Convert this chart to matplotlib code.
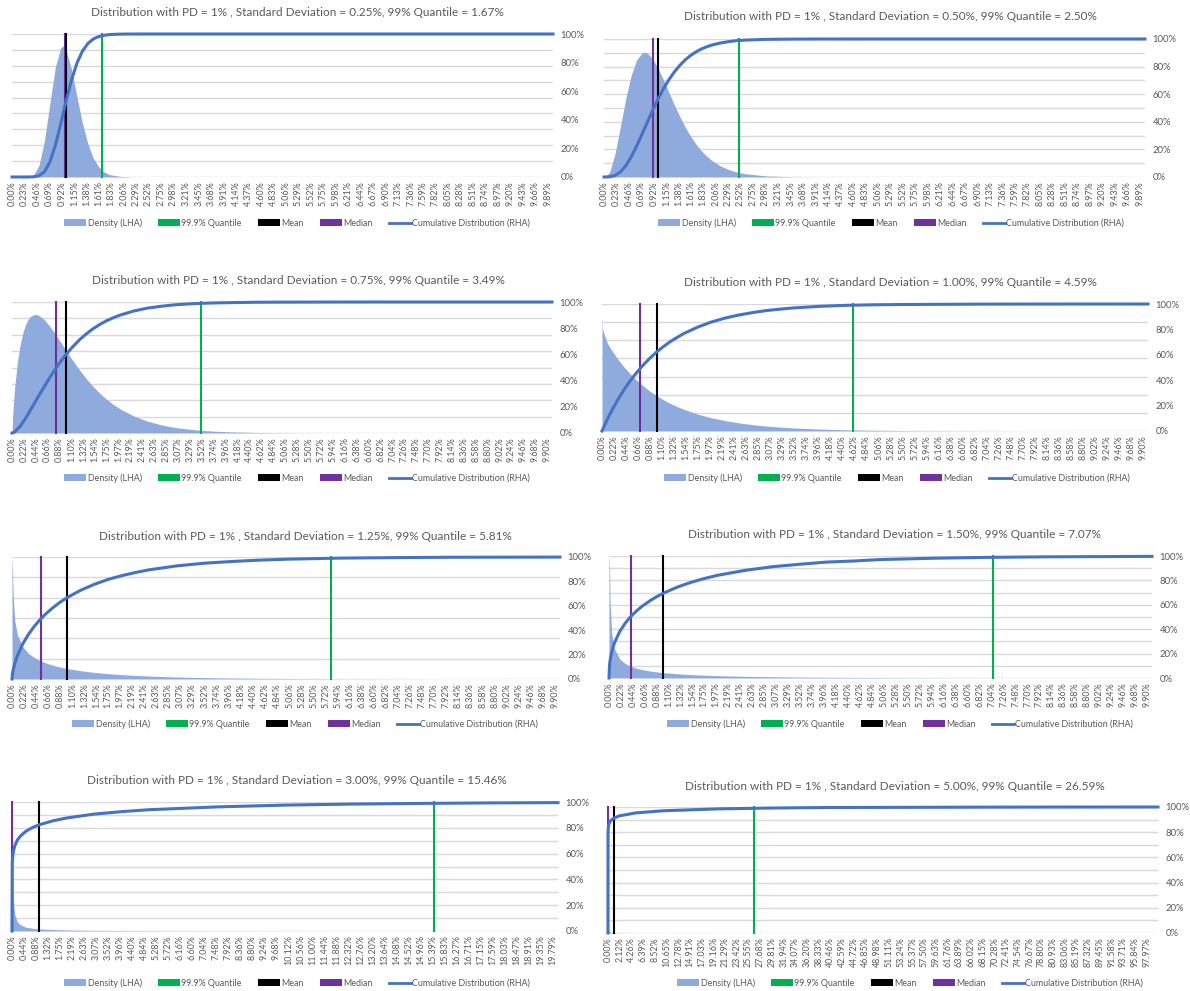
import numpy as np
import matplotlib
matplotlib.use("Agg")
import matplotlib.pyplot as plt
from matplotlib.patches import Patch
from matplotlib.lines import Line2D

plt.rcParams['font.family'] = ['Lato', 'DejaVu Sans']

# ---- data ----
SD_LABELS = ["0.25%", "0.50%", "0.75%", "1.00%", "1.25%", "1.50%", "3.00%", "5.00%"]
Q99 = [1.67, 2.50, 3.49, 4.59, 5.81, 7.07, 15.46, 26.59]
MEAN = [1.0, 1.0, 1.0, 1.0, 1.0, 1.0, 1.0, 1.0]
MEDIAN = [0.98, 0.91, 0.82, 0.69, 0.53, 0.40, 0.01, 0.0]
XMAX = [9.99, 9.99, 9.99, 9.99, 9.99, 9.99, 19.99, 99.99]
GRID_STEPS = [9, 10, 8, 7, 6, 10, 10, 10]

# x in %, density as share of left axis height, cumulative as share
x1 = [0, 0.3, 0.4, 0.5, 0.6, 0.7, 0.8, 0.9, 0.94, 1.0, 1.1, 1.2, 1.3, 1.4, 1.5, 1.6, 1.7, 1.8, 2.0, 2.2, 2.5, 3.0, 9.99]
dens1 = [0, 0.001, 0.015, 0.083, 0.256, 0.516, 0.769, 0.905, 0.916, 0.888, 0.749, 0.560, 0.376, 0.233, 0.133, 0.071, 0.036, 0.017, 0.004, 0.001, 0, 0, 0]
cdf1 = [0, 0.0001, 0.0015, 0.009, 0.037, 0.105, 0.220, 0.371, 0.436, 0.533, 0.680, 0.797, 0.880, 0.933, 0.965, 0.982, 0.991, 0.996, 0.9993, 0.9999, 1, 1, 1]

x2 = [0, 0.1, 0.2, 0.3, 0.4, 0.5, 0.6, 0.7, 0.75, 0.8, 0.9, 1.0, 1.1, 1.2, 1.3, 1.4, 1.5, 1.6, 1.7, 1.8,
      1.9, 2.0, 2.15, 2.3, 2.45, 2.6, 3.0, 3.5, 4.0, 5.0, 9.99]
dens2 = [0, 0.031, 0.161, 0.358, 0.564, 0.734, 0.846, 0.899, 0.904, 0.898, 0.856, 0.786, 0.702, 0.611, 0.522, 0.438, 0.361, 0.295, 0.237, 0.189,
         0.149, 0.118, 0.080, 0.054, 0.036, 0.024, 0.0075, 0.0016, 0.0004, 0, 0]
cdf2 = [0, 0.0008, 0.0105, 0.0356, 0.0805, 0.144, 0.222, 0.308, 0.353, 0.397, 0.485, 0.567, 0.641, 0.706, 0.762, 0.809, 0.849, 0.881, 0.907, 0.928,
        0.944, 0.957, 0.971, 0.981, 0.988, 0.992, 0.9975, 0.9994, 0.9999, 1, 1]

x3 = [0, 0.02, 0.05, 0.1, 0.15, 0.2, 0.25, 0.3, 0.35, 0.43, 0.5, 0.6, 0.7, 0.8, 0.9, 1.0, 1.125, 1.25, 1.375, 1.5,
      1.625, 1.75, 1.875, 2.0, 2.25, 2.5, 2.75, 3.0, 3.25, 3.5, 3.75, 4.0, 4.5, 5.0, 6.0, 7.0, 9.99]
dens3 = [0, 0.186, 0.351, 0.541, 0.671, 0.763, 0.827, 0.868, 0.893, 0.906, 0.897, 0.864, 0.814, 0.756, 0.693, 0.630, 0.552, 0.480, 0.4145, 0.355,
         0.303, 0.257, 0.218, 0.184, 0.130, 0.091, 0.063, 0.043, 0.030, 0.020, 0.0138, 0.0093, 0.0043, 0.0019, 0.0004, 0.0001, 0]
cdf3 = [0, 0.002, 0.008, 0.030, 0.051, 0.081, 0.111, 0.145, 0.181, 0.238, 0.289, 0.356, 0.424, 0.487, 0.546, 0.600, 0.659, 0.712, 0.757, 0.796,
        0.829, 0.857, 0.880, 0.900, 0.931, 0.953, 0.967, 0.978, 0.985, 0.990, 0.993, 0.995, 0.998, 0.999, 0.9998, 1, 1]

x4 = [0, 0.01, 0.1, 0.2, 0.3, 0.4, 0.5, 0.6, 0.75, 0.875, 1.0, 1.125, 1.25, 1.375, 1.5, 1.75, 2.0, 2.25, 2.5, 2.75,
      3.0, 3.25, 3.5, 4.0, 4.5, 5.0, 5.5, 6.0, 7.0, 8.0, 9.99]
dens4 = [0.90, 0.80, 0.69, 0.62, 0.56, 0.505, 0.457, 0.413, 0.356, 0.314, 0.278, 0.246, 0.217, 0.192, 0.170, 0.133, 0.104, 0.082, 0.064, 0.050,
         0.039, 0.031, 0.024, 0.015, 0.0092, 0.0056, 0.0035, 0.0024, 0.001, 0.0004, 0]
cdf4 = [0, 0.011, 0.095, 0.178, 0.254, 0.323, 0.386, 0.442, 0.518, 0.573, 0.622, 0.665, 0.704, 0.737, 0.768, 0.818, 0.858, 0.889, 0.913, 0.932,
        0.948, 0.959, 0.969, 0.982, 0.990, 0.994, 0.996, 0.997, 0.999, 0.9996, 1]

x5 = [0, 0.01, 0.02, 0.05, 0.1, 0.2, 0.3, 0.4, 0.5, 0.6, 0.75, 0.875, 1.0, 1.25, 1.5, 1.75, 2.0, 2.25, 2.5, 3.0,
      3.5, 4.0, 4.5, 5.0, 6.0, 7.0, 8.0, 9.99]
dens5 = [1.0, 0.905, 0.694, 0.481, 0.360, 0.261, 0.210, 0.177, 0.153, 0.134, 0.112, 0.098, 0.086, 0.068, 0.054, 0.044, 0.036, 0.029, 0.024, 0.016,
         0.0113, 0.008, 0.0055, 0.004, 0.002, 0.001, 0.0005, 0.0001]
cdf5 = [0, 0.047, 0.0725, 0.127, 0.193, 0.291, 0.366, 0.428, 0.481, 0.527, 0.586, 0.629, 0.666, 0.727, 0.776, 0.816, 0.847, 0.873, 0.895, 0.927,
        0.949, 0.963, 0.974, 0.982, 0.991, 0.995, 0.998, 0.9994]

x6 = [0, 0.01, 0.02, 0.05, 0.1, 0.2, 0.3, 0.4, 0.5, 0.6, 0.75, 0.875, 1.0, 1.25, 1.5, 1.75, 2.0, 2.5, 3.0, 3.5,
      4.0, 4.5, 5.0, 6.0, 7.0, 8.0, 9.99]
dens6 = [1.0, 0.926, 0.619, 0.364, 0.240, 0.155, 0.118, 0.096, 0.081, 0.070, 0.0575, 0.050, 0.044, 0.035, 0.028, 0.023, 0.019, 0.0136, 0.0099, 0.0073,
         0.0055, 0.0041, 0.0031, 0.0018, 0.0011, 0.0006, 0.0003]
cdf6 = [0, 0.108, 0.146, 0.215, 0.288, 0.383, 0.450, 0.504, 0.547, 0.585, 0.632, 0.666, 0.695, 0.744, 0.783, 0.815, 0.842, 0.882, 0.912, 0.932,
        0.950, 0.959, 0.971, 0.982, 0.989, 0.993, 0.997]

x7 = [0, 0.01, 0.02, 0.05, 0.1, 0.2, 0.3, 0.5, 0.75, 1.0, 1.5, 2.0, 3.0, 4.0, 5.0, 7.5, 10, 12.5, 15, 17.5, 19.99]
dens7 = [1.0, 1.0, 0.555, 0.243, 0.130, 0.070, 0.049, 0.030, 0.021, 0.0155, 0.011, 0.0076, 0.0048, 0.0035, 0.0025, 0.0014, 0.0009, 0.0006, 0.0004, 0.0003, 0.0002]
cdf7 = [0, 0.524, 0.562, 0.615, 0.659, 0.706, 0.734, 0.772, 0.802, 0.824, 0.854, 0.876, 0.906, 0.925, 0.940, 0.962, 0.976, 0.984, 0.989, 0.993, 0.995]

x8 = [0, 0.01, 0.02, 0.05, 0.1, 0.2, 0.5, 1, 2, 5, 10, 20, 30, 40, 50, 60, 70, 80, 90, 99.99]
dens8 = [0, 0.30, 0.15, 0.06, 0.03, 0.015, 0.006, 0.003, 0.0015, 0.0006, 0.0003, 0.0001, 0.0001, 0, 0, 0, 0, 0, 0, 0]
cdf8 = [0, 0.795, 0.811, 0.834, 0.851, 0.869, 0.893, 0.910, 0.929, 0.953, 0.970, 0.985, 0.992, 0.996, 0.997, 0.998, 0.999, 0.9996, 0.9999, 1.0]

LABELS_A = ["0.00%", "0.23%", "0.46%", "0.69%", "0.92%", "1.15%", "1.38%", "1.61%", "1.83%", "2.06%",
            "2.29%", "2.52%", "2.75%", "2.98%", "3.21%", "3.45%", "3.68%", "3.91%", "4.14%", "4.37%",
            "4.60%", "4.83%", "5.06%", "5.29%", "5.52%", "5.75%", "5.98%", "6.21%", "6.44%", "6.67%",
            "6.90%", "7.13%", "7.36%", "7.59%", "7.82%", "8.05%", "8.28%", "8.51%", "8.74%", "8.97%",
            "9.20%", "9.43%", "9.66%", "9.89%"]
LABELS_B = ["0.00%", "0.22%", "0.44%", "0.66%", "0.88%", "1.10%", "1.32%", "1.54%", "1.75%", "1.97%",
            "2.19%", "2.41%", "2.63%", "2.85%", "3.07%", "3.29%", "3.52%", "3.74%", "3.96%", "4.18%",
            "4.40%", "4.62%", "4.84%", "5.06%", "5.28%", "5.50%", "5.72%", "5.94%", "6.16%", "6.38%",
            "6.60%", "6.82%", "7.04%", "7.26%", "7.48%", "7.70%", "7.92%", "8.14%", "8.36%", "8.58%",
            "8.80%", "9.02%", "9.24%", "9.46%", "9.68%", "9.90%"]
LABELS_C = ["0.00%", "0.44%", "0.88%", "1.32%", "1.75%", "2.19%", "2.63%", "3.07%", "3.52%", "3.96%",
            "4.40%", "4.84%", "5.28%", "5.72%", "6.16%", "6.60%", "7.04%", "7.48%", "7.92%", "8.36%",
            "8.80%", "9.24%", "9.68%", "10.12%", "10.56%", "11.00%", "11.44%", "11.88%", "12.32%", "12.76%",
            "13.20%", "13.64%", "14.08%", "14.52%", "14.96%", "15.39%", "15.83%", "16.27%", "16.71%", "17.15%",
            "17.59%", "18.03%", "18.47%", "18.91%", "19.35%", "19.79%"]
LABELS_D = ["0.00%", "2.12%", "4.26%", "6.39%", "8.52%", "10.65%", "12.78%", "14.91%", "17.03%", "19.16%",
            "21.29%", "23.42%", "25.55%", "27.68%", "29.81%", "31.94%", "34.07%", "36.20%", "38.33%", "40.46%",
            "42.59%", "44.72%", "46.85%", "48.98%", "51.11%", "53.24%", "55.37%", "57.50%", "59.63%", "61.76%",
            "63.89%", "66.02%", "68.15%", "70.28%", "72.41%", "74.54%", "76.67%", "78.80%", "80.93%", "83.06%",
            "85.19%", "87.32%", "89.45%", "91.58%", "93.71%", "95.84%", "97.97%"]

RIGHT_TICKS = [0, 0.2, 0.4, 0.6, 0.8, 1.0]
RIGHT_LABELS = ["0%", "20%", "40%", "60%", "80%", "100%"]

# ---- styling / layout (pixels) ----
W, H = 1190, 991
DENS_C = "#8FAADC"
CDF_C = "#4472C4"
Q_C = "#00B050"
MEAN_C = "#000000"
MED_C = "#7030A0"
TXT_C = "#595959"
GRID_C = "#D9D9D9"

BOXES = [(12, 34, 553, 177), (604, 39, 1145, 177),
         (12, 302, 552, 433), (602, 304, 1148, 431),
         (12, 557, 560, 679), (609, 556, 1152, 678),
         (12, 802, 558, 931), (608, 807, 1158, 933)]
TITLE_XY = [(297, 12), (890, 17), (298, 281), (890, 283),
            (305, 537), (895, 535), (297, 780), (895, 786)]
LEGEND_XY = [(297, 223), (891, 223), (297, 478), (897, 478),
             (305, 724), (900, 724), (297, 983), (910, 983)]

XS = [x1, x2, x3, x4, x5, x6, x7, x8]
DENS = [dens1, dens2, dens3, dens4, dens5, dens6, dens7, dens8]
CDFS = [cdf1, cdf2, cdf3, cdf4, cdf5, cdf6, cdf7, cdf8]
LABELS = [LABELS_A, LABELS_A, LABELS_B, LABELS_B, LABELS_B, LABELS_B, LABELS_C, LABELS_D]

fig = plt.figure(figsize=(W / 100, H / 100), dpi=100)

for i in range(8):
    l, t, r, b = BOXES[i]
    ax = fig.add_axes([l / W, 1 - b / H, (r - l) / W, (b - t) / H])
    ax.fill_between(XS[i], DENS[i], color=DENS_C, lw=0, zorder=1)
    ax.set_xlim(0, XMAX[i])
    ax.set_ylim(0, 1)
    ax.set_yticks(np.linspace(0, 1, GRID_STEPS[i] + 1))
    ax.yaxis.grid(True, color=GRID_C, lw=1.0, zorder=0)
    ax.set_axisbelow(True)
    ticks = [float(s.strip('%')) for s in LABELS[i]]
    ax.set_xticks(ticks)
    ax.set_xticklabels(LABELS[i], rotation=90, fontsize=6.4, color=TXT_C)
    ax.tick_params(axis='x', length=0, pad=3)
    for sp in ax.spines.values():
        sp.set_visible(False)

    ax.axvline(Q99[i], color=Q_C, lw=1.5, zorder=2, clip_on=False)
    ax.axvline(MEDIAN[i], color=MED_C, lw=1.5, zorder=2, clip_on=False)
    ax.axvline(MEAN[i], color=MEAN_C, lw=1.5, zorder=2, clip_on=False)

    ax2 = ax.twinx()
    ax2.plot(XS[i], CDFS[i], color=CDF_C, lw=2.2, clip_on=False)
    ax2.set_ylim(0, 1)
    ax2.set_yticks(RIGHT_TICKS)
    ax2.set_yticklabels(RIGHT_LABELS, fontsize=6.8, color=TXT_C)
    ax2.tick_params(axis='y', length=0, pad=5.5)
    for sp in ax2.spines.values():
        sp.set_visible(False)
    # twinx puts the left ticks back on, so hide them afterwards
    ax.tick_params(axis='y', left=False, right=False, labelleft=False, labelright=False)

    tx, ty = TITLE_XY[i]
    title = ("Distribution with PD = 1% , Standard Deviation = " + SD_LABELS[i]
             + ", 99% Quantile = " + "{:.2f}%".format(Q99[i]))
    fig.text(tx / W, 1 - ty / H, title, ha='center', va='center', fontsize=8.5, color=TXT_C)

    handles = [Patch(facecolor=DENS_C, edgecolor='none'),
               Patch(facecolor=Q_C, edgecolor='none'),
               Patch(facecolor=MEAN_C, edgecolor='none'),
               Patch(facecolor=MED_C, edgecolor='none'),
               Line2D([0], [0], color=CDF_C, lw=2)]
    names = ["Density (LHA)", "99.9% Quantile", "Mean", "Median", "Cumulative Distribution (RHA)"]
    lx, ly = LEGEND_XY[i]
    fig.legend(handles, names, loc='center', bbox_to_anchor=(lx / W, 1 - ly / H), ncol=5,
               frameon=False, fontsize=6.4, labelcolor=TXT_C, handlelength=2.5, handleheight=0.75,
               handletextpad=0.15, columnspacing=1.8, borderpad=0)

fig.savefig("out.png", dpi=100)
